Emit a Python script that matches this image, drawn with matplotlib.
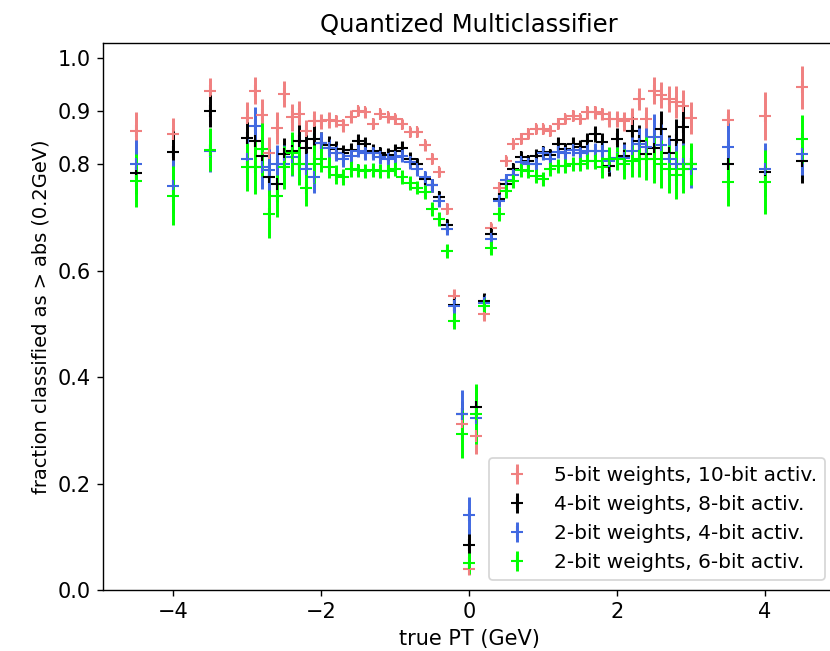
import numpy as np
import matplotlib
matplotlib.use("Agg")
import matplotlib.pyplot as plt

# bin centres in true PT (GeV)
pt_bins = [-4.5, -4.0, -3.5,
           -3.0, -2.9, -2.8, -2.7, -2.6, -2.5, -2.4, -2.3, -2.2, -2.1,
           -2.0, -1.9, -1.8, -1.7, -1.6, -1.5, -1.4, -1.3, -1.2, -1.1,
           -1.0, -0.9, -0.8, -0.7, -0.6, -0.5, -0.4, -0.3, -0.2, -0.1,
           0.0,
           0.1, 0.2, 0.3, 0.4, 0.5, 0.6, 0.7, 0.8, 0.9, 1.0,
           1.1, 1.2, 1.3, 1.4, 1.5, 1.6, 1.7, 1.8, 1.9, 2.0,
           2.1, 2.2, 2.3, 2.4, 2.5, 2.6, 2.7, 2.8, 2.9, 3.0,
           3.5, 4.0, 4.5]

# 5-bit weights, 10-bit activations
frac_w5a10 = [0.863, 0.857, 0.937,
              0.887, 0.938, 0.892, 0.820, 0.868, 0.932, 0.888, 0.894, 0.863, 0.880,
              0.880, 0.882, 0.881, 0.873, 0.889, 0.900, 0.897, 0.876, 0.894, 0.888,
              0.885, 0.875, 0.860, 0.860, 0.835, 0.810, 0.785, 0.716, 0.553, 0.312,
              0.040,
              0.290, 0.518, 0.680, 0.756, 0.806, 0.838, 0.847, 0.857, 0.866, 0.866,
              0.863, 0.875, 0.885, 0.891, 0.885, 0.897, 0.897, 0.894, 0.885, 0.885,
              0.880, 0.885, 0.922, 0.885, 0.938, 0.930, 0.922, 0.917, 0.910, 0.887,
              0.882, 0.891, 0.944]
err_w5a10 = [0.035, 0.030, 0.025,
             0.030, 0.025, 0.030, 0.030, 0.030, 0.025, 0.025, 0.025, 0.020, 0.020,
             0.015, 0.015, 0.012, 0.012, 0.012, 0.010, 0.010, 0.010, 0.010, 0.010,
             0.010, 0.010, 0.010, 0.010, 0.010, 0.010, 0.010, 0.010, 0.012, 0.020,
             0.012,
             0.035, 0.012, 0.010, 0.010, 0.010, 0.010, 0.010, 0.010, 0.010, 0.010,
             0.010, 0.010, 0.010, 0.010, 0.010, 0.012, 0.012, 0.012, 0.015, 0.015,
             0.018, 0.020, 0.020, 0.022, 0.025, 0.025, 0.025, 0.030, 0.030, 0.030,
             0.022, 0.045, 0.040]

# 4-bit weights, 8-bit activations
frac_w4a8 = [0.783, 0.822, 0.900,
             0.849, 0.844, 0.815, 0.775, 0.763, 0.819, 0.825, 0.844, 0.830, 0.847,
             0.840, 0.835, 0.828, 0.820, 0.826, 0.844, 0.838, 0.825, 0.820, 0.818,
             0.825, 0.831, 0.810, 0.800, 0.772, 0.760, 0.738, 0.685, 0.535, 0.330,
             0.085,
             0.343, 0.543, 0.669, 0.735, 0.763, 0.790, 0.813, 0.806, 0.816, 0.822,
             0.817, 0.838, 0.828, 0.838, 0.833, 0.844, 0.857, 0.841, 0.797, 0.847,
             0.816, 0.863, 0.844, 0.819, 0.830, 0.865, 0.820, 0.845, 0.870, 0.800,
             0.800, 0.786, 0.805]
err_w4a8 = [0.040, 0.040, 0.030,
            0.030, 0.030, 0.035, 0.035, 0.035, 0.030, 0.030, 0.030, 0.025, 0.025,
            0.020, 0.018, 0.015, 0.015, 0.013, 0.012, 0.012, 0.012, 0.012, 0.012,
            0.012, 0.012, 0.012, 0.012, 0.012, 0.012, 0.012, 0.012, 0.015, 0.025,
            0.030,
            0.040, 0.015, 0.012, 0.012, 0.012, 0.012, 0.012, 0.012, 0.012, 0.012,
            0.012, 0.012, 0.012, 0.012, 0.012, 0.015, 0.015, 0.018, 0.020, 0.020,
            0.025, 0.025, 0.030, 0.030, 0.035, 0.035, 0.035, 0.040, 0.040, 0.035,
            0.040, 0.045, 0.040]

# 2-bit weights, 4-bit activations
frac_w2a4 = [0.800, 0.758, 0.825,
             0.810, 0.872, 0.794, 0.788, 0.800, 0.800, 0.813, 0.800, 0.790, 0.775,
             0.840, 0.830, 0.820, 0.810, 0.815, 0.825, 0.820, 0.820, 0.813, 0.810,
             0.813, 0.816, 0.803, 0.790, 0.775, 0.760, 0.731, 0.678, 0.534, 0.330,
             0.140,
             0.324, 0.540, 0.660, 0.731, 0.770, 0.780, 0.803, 0.800, 0.800, 0.820,
             0.810, 0.823, 0.820, 0.827, 0.820, 0.825, 0.825, 0.825, 0.806, 0.812,
             0.812, 0.825, 0.838, 0.832, 0.850, 0.835, 0.810, 0.800, 0.800, 0.790,
             0.832, 0.790, 0.819]
err_w2a4 = [0.045, 0.050, 0.040,
            0.040, 0.035, 0.040, 0.040, 0.035, 0.035, 0.035, 0.035, 0.030, 0.030,
            0.020, 0.018, 0.015, 0.015, 0.013, 0.012, 0.012, 0.012, 0.012, 0.012,
            0.012, 0.012, 0.012, 0.012, 0.012, 0.012, 0.012, 0.012, 0.015, 0.045,
            0.035,
            0.030, 0.015, 0.012, 0.012, 0.012, 0.012, 0.012, 0.012, 0.012, 0.012,
            0.012, 0.012, 0.012, 0.012, 0.012, 0.015, 0.015, 0.018, 0.020, 0.020,
            0.025, 0.025, 0.030, 0.035, 0.045, 0.040, 0.040, 0.040, 0.040, 0.035,
            0.045, 0.050, 0.040]

# 2-bit weights, 6-bit activations
frac_w2a6 = [0.769, 0.741, 0.827,
             0.794, 0.794, 0.828, 0.707, 0.740, 0.794, 0.820, 0.800, 0.756, 0.800,
             0.810, 0.794, 0.780, 0.775, 0.790, 0.788, 0.787, 0.789, 0.787, 0.787,
             0.790, 0.775, 0.765, 0.756, 0.747, 0.716, 0.697, 0.637, 0.506, 0.293,
             0.050,
             0.330, 0.534, 0.643, 0.706, 0.750, 0.769, 0.788, 0.787, 0.778, 0.772,
             0.790, 0.797, 0.797, 0.800, 0.800, 0.806, 0.806, 0.794, 0.810, 0.810,
             0.800, 0.806, 0.810, 0.810, 0.810, 0.800, 0.790, 0.780, 0.790, 0.800,
             0.766, 0.766, 0.847]
err_w2a6 = [0.050, 0.055, 0.040,
            0.045, 0.050, 0.050, 0.045, 0.040, 0.040, 0.040, 0.040, 0.035, 0.035,
            0.025, 0.020, 0.018, 0.015, 0.015, 0.013, 0.013, 0.013, 0.013, 0.013,
            0.013, 0.013, 0.013, 0.013, 0.013, 0.013, 0.013, 0.013, 0.015, 0.045,
            0.020,
            0.056, 0.015, 0.013, 0.013, 0.013, 0.013, 0.013, 0.013, 0.013, 0.013,
            0.013, 0.013, 0.013, 0.013, 0.013, 0.015, 0.015, 0.020, 0.022, 0.022,
            0.028, 0.030, 0.035, 0.040, 0.045, 0.045, 0.045, 0.045, 0.045, 0.040,
            0.045, 0.060, 0.045]

y_ticks = [0.0, 0.2, 0.4, 0.6, 0.8, 0.9, 1.0]

series = [
    (frac_w5a10, err_w5a10, "lightcoral", "5-bit weights, 10-bit activ."),
    (frac_w4a8, err_w4a8, "black", "4-bit weights, 8-bit activ."),
    (frac_w2a4, err_w2a4, "royalblue", "2-bit weights, 4-bit activ."),
    (frac_w2a6, err_w2a6, "lime", "2-bit weights, 6-bit activ."),
]

plt.rcParams["font.size"] = 12

fig = plt.figure(figsize=(6.64, 5.208), dpi=125)
# axes run slightly past the right edge, as in the reference crop
ax = fig.add_axes([0.1241, 0.0937, 0.8819, 0.8407])

for vals, errs, col, lab in series:
    ax.errorbar(pt_bins, vals, yerr=errs, fmt="+", color=col, label=lab,
                markersize=7, elinewidth=1.7, markeredgewidth=1.2)

ax.set_xlim(-4.95, 4.95)
ax.set_ylim(0, 1.028)
ax.set_yticks(y_ticks)
ax.set_title("Quantized Multiclassifier", fontsize=14)
ax.set_xlabel("true PT (GeV)", fontsize=12)
ax.set_ylabel("fraction classified as > abs (0.2GeV)", fontsize=11.2)
ax.legend(loc="lower right", fontsize=11.6)

fig.savefig("out.png", dpi=125)
